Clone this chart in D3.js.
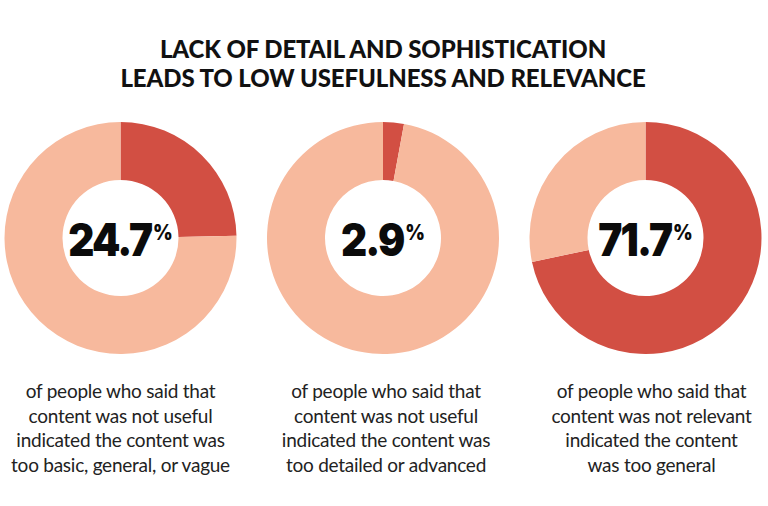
<!DOCTYPE html>
<html><head><meta charset="utf-8">
<script src="https://cdn.jsdelivr.net/npm/d3@7"></script>
<style>html,body{margin:0;padding:0;background:#fff;}</style>
</head><body>
<svg id="c" width="768" height="506"></svg>
<script>
const titleLines = ["LACK OF DETAIL AND SOPHISTICATION", "LEADS TO LOW USEFULNESS AND RELEVANCE"];
const labels = ["24.7", "2.9", "71.7"];
const values = [24.7, 2.9, 71.7];
const captions = [
  ["of people who said that", "content was not useful", "indicated the content was", "too basic, general, or vague"],
  ["of people who said that", "content was not useful", "indicated the content was", "too detailed or advanced"],
  ["of people who said that", "content was not relevant", "indicated the content", "was too general"]
];
const colors = ["#d24f43", "#f7b99d"];

const svg = d3.select("#c");
svg.append("g").selectAll("text").data(titleLines).join("text")
  .attr("x", 383).attr("y", (d,i) => 58 + i*29)
  .attr("text-anchor", "middle")
  .style("font-family", "Lato").style("font-weight", 900).style("font-size", "24px")
  .style("letter-spacing", "-0.1px")
  .attr("fill", "#111").text(d => d);

const xs = d3.scalePoint().domain(d3.range(values.length)).range([120.5, 645.5]);
const pie = d3.pie().sort(null).value(d => d);
const arc = d3.arc().innerRadius(58).outerRadius(116);
const cy = 238;

values.forEach((v, i) => {
  const g = svg.append("g").attr("transform", `translate(${xs(i)},${cy})`);
  g.selectAll("path").data(pie([v, 100 - v])).join("path")
    .attr("d", arc).attr("fill", (d,j) => colors[j]);
  const t = g.append("text").attr("text-anchor", "middle").attr("y", 18)
    .attr("transform", "scale(0.9,1)")
    .style("font-family", "Inter").style("font-weight", 900).style("font-size", "45px")
    .style("letter-spacing", "-2px").attr("fill", "#0b0b0b");
  t.append("tspan").text(labels[i]);
  t.append("tspan").text("%").style("font-size", "21px").style("letter-spacing", "0px")
    .attr("dy", -16).attr("dx", 2);
  const cap = svg.append("g");
  cap.selectAll("text").data(captions[i]).join("text")
    .attr("x", xs(i) + (i === 0 ? 0 : (i === 1 ? 3 : 6))).attr("y", (d,k) => 398 + k*24.7)
    .attr("text-anchor", "middle")
    .style("font-family", "Lato").style("font-size", "19px").style("letter-spacing", "-0.25px")
    .attr("fill", "#222")
    .text(d => d);
});
</script>
</body></html>
